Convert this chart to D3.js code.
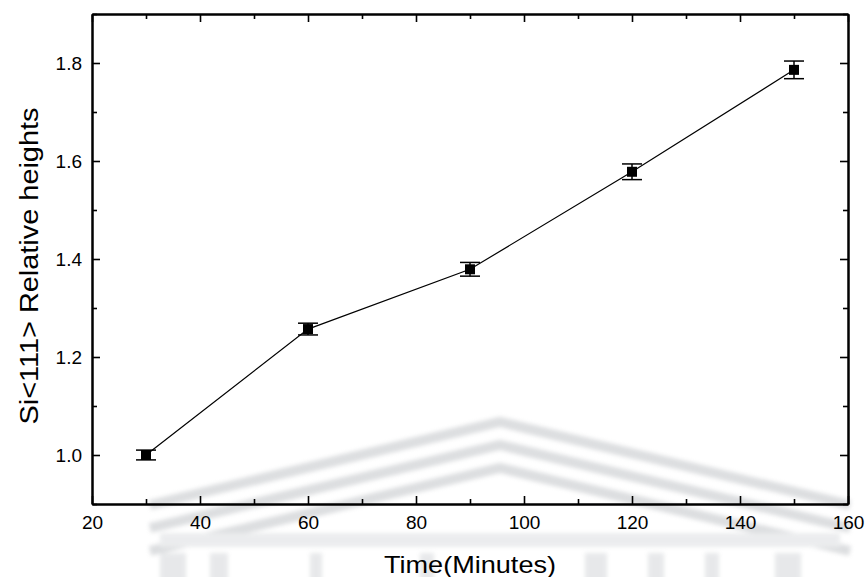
<!DOCTYPE html>
<html>
<head>
<meta charset="utf-8">
<script src="https://cdn.jsdelivr.net/npm/d3@7"></script>
<style>
  body { margin: 0; background: #fff; }
  svg { display: block; font-family: "Liberation Sans", Arial, sans-serif; }
  .axis path, .axis line { stroke: #000; }
  .axis path { stroke-width: 2; }
  .axis line { stroke-width: 1.6; }
</style>
</head>
<body>
<svg id="chart" width="867" height="577"></svg>
<script>
var times = [30, 60, 90, 120, 150];
var heights = [1.0, 1.257, 1.379, 1.578, 1.786];
var errors = [0.010, 0.012, 0.014, 0.016, 0.018];
var xMajor = [20, 40, 60, 80, 100, 120, 140, 160];
var xMinor = [30, 50, 70, 90, 110, 130, 150];
var yMajor = [1.0, 1.2, 1.4, 1.6, 1.8];
var yMinor = [0.9, 1.1, 1.3, 1.5, 1.7, 1.9];

(function () {
	'use strict';

	var svg = d3.select("#chart");
	var pLeft = 92, pRight = 848, pTop = 14, pBottom = 504;

	var x = d3.scaleLinear().domain([20, 160]).range([pLeft, pRight]);
	var y = d3.scaleLinear().domain([0.9, 1.9]).range([pBottom, pTop]);

	// faint watermark behind the plot
	var defs = svg.append("defs");
	defs.append("filter").attr("id", "soft")
		.append("feGaussianBlur").attr("stdDeviation", 2.2);
	var wm = svg.append("g").attr("filter", "url(#soft)").attr("opacity", 0.4);
	[422, 445, 468].forEach(function (py) {
		wm.append("path")
			.attr("d", "M150," + (py + 83) + "L500," + py + "L850," + (py + 83))
			.attr("fill", "none").attr("stroke", "#a9adb2").attr("stroke-width", 10);
	});
	wm.append("rect").attr("x", 160).attr("y", 533).attr("width", 680).attr("height", 14).attr("fill", "#cfd2d6");
	[[160, 26], [210, 18], [310, 12], [420, 14], [585, 22], [648, 16], [705, 14], [775, 26]].forEach(function (c) {
		wm.append("rect").attr("x", c[0]).attr("y", 553).attr("width", c[1]).attr("height", 30).attr("fill", "#c4c8cc");
	});

	// axes with inward ticks
	function noLabels(g) { g.selectAll("text").remove(); }
	function style(g) {
		g.attr("font-size", null).attr("font-family", null);
		g.selectAll("text")
			.style("font-family", "'Liberation Sans', Arial, sans-serif")
			.style("font-size", "19px")
			.style("fill", "#000");
	}

	svg.append("g").attr("class", "axis")
		.attr("transform", "translate(0," + pBottom + ")")
		.call(d3.axisBottom(x).tickValues(xMajor).tickSizeInner(-8).tickSizeOuter(0).tickPadding(12).tickFormat(d3.format("d")))
		.call(style);
	svg.append("g").attr("class", "axis")
		.attr("transform", "translate(0," + pBottom + ")")
		.call(d3.axisBottom(x).tickValues(xMinor).tickSizeInner(-5).tickSizeOuter(0)).call(noLabels);
	svg.append("g").attr("class", "axis")
		.attr("transform", "translate(0," + pTop + ")")
		.call(d3.axisTop(x).tickValues(xMajor).tickSizeInner(-8).tickSizeOuter(0)).call(noLabels);
	svg.append("g").attr("class", "axis")
		.attr("transform", "translate(0," + pTop + ")")
		.call(d3.axisTop(x).tickValues(xMinor).tickSizeInner(-5).tickSizeOuter(0)).call(noLabels);

	svg.append("g").attr("class", "axis")
		.attr("transform", "translate(" + pLeft + ",0)")
		.call(d3.axisLeft(y).tickValues(yMajor).tickSizeInner(-8).tickSizeOuter(0).tickPadding(10).tickFormat(d3.format(".1f")))
		.call(style);
	svg.append("g").attr("class", "axis")
		.attr("transform", "translate(" + pLeft + ",0)")
		.call(d3.axisLeft(y).tickValues(yMinor).tickSizeInner(-5).tickSizeOuter(0)).call(noLabels);
	svg.append("g").attr("class", "axis")
		.attr("transform", "translate(" + pRight + ",0)")
		.call(d3.axisRight(y).tickValues(yMajor).tickSizeInner(-8).tickSizeOuter(0)).call(noLabels);
	svg.append("g").attr("class", "axis")
		.attr("transform", "translate(" + pRight + ",0)")
		.call(d3.axisRight(y).tickValues(yMinor).tickSizeInner(-5).tickSizeOuter(0)).call(noLabels);

	// data
	var pts = times.map(function (t, i) { return { t: t, h: heights[i], e: errors[i] }; });

	svg.append("path")
		.datum(pts)
		.attr("fill", "none").attr("stroke", "#000").attr("stroke-width", 1.2)
		.attr("d", d3.line().x(function (d) { return x(d.t); }).y(function (d) { return y(d.h); }));

	var eb = svg.append("g").attr("stroke", "#000").attr("stroke-width", 1.5);
	pts.forEach(function (d) {
		var cx = x(d.t);
		eb.append("line").attr("x1", cx).attr("x2", cx).attr("y1", y(d.h - d.e)).attr("y2", y(d.h + d.e));
		eb.append("line").attr("x1", cx - 10).attr("x2", cx + 10).attr("y1", y(d.h + d.e)).attr("y2", y(d.h + d.e));
		eb.append("line").attr("x1", cx - 10).attr("x2", cx + 10).attr("y1", y(d.h - d.e)).attr("y2", y(d.h - d.e));
	});

	svg.append("g").selectAll("rect")
		.data(pts).enter().append("rect")
		.attr("x", function (d) { return x(d.t) - 5; })
		.attr("y", function (d) { return y(d.h) - 5; })
		.attr("width", 10).attr("height", 10)
		.attr("fill", "#000");

	// titles
	svg.append("text")
		.attr("x", (pLeft + pRight) / 2).attr("y", 573)
		.attr("text-anchor", "middle")
		.attr("font-size", 24).attr("textLength", 172).attr("lengthAdjust", "spacingAndGlyphs")
		.text("Time(Minutes)");

	svg.append("text")
		.attr("transform", "translate(38,266) rotate(-90)")
		.attr("text-anchor", "middle")
		.attr("font-size", 25).attr("textLength", 317).attr("lengthAdjust", "spacingAndGlyphs")
		.text("Si<111> Relative heights");
})();
</script>
</body>
</html>
